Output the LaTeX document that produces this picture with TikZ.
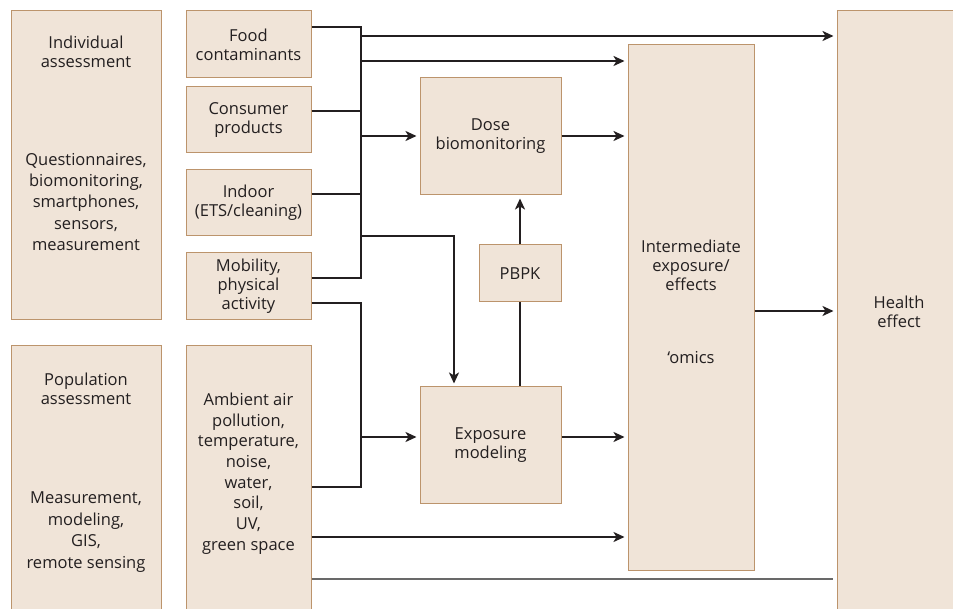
\documentclass[tikz,border=0pt]{standalone}
\usepackage{fontspec}
\setmainfont{Open Sans}
\usetikzlibrary{arrows.meta}
\definecolor{boxfill}{RGB}{240,228,216}
\definecolor{boxdraw}{RGB}{188,148,108}
\definecolor{ink}{RGB}{35,31,32}
\definecolor{rulegray}{RGB}{105,105,105}
\begin{document}
\begin{tikzpicture}[x=1pt,y=-1pt,
  box/.style={draw=boxdraw, fill=boxfill, line width=1pt, inner sep=0pt},
  txt/.style={align=center, font=\fontsize{16.5}{19}\selectfont, text=ink, inner sep=0pt},
  txtwide/.style={txt, font=\fontsize{16.5}{21.4}\selectfont},
  conn/.style={draw=ink, line width=2.3pt},
  arr/.style={conn, shorten >=3pt, -{Stealth[length=11pt,width=10pt,inset=3pt]}},
  thin/.style={draw=rulegray, line width=1.4pt}]
\useasboundingbox (0,0) rectangle (953,609);
\clip (0,0) rectangle (953,609);
% boxes
\node[box, minimum width=150, minimum height=309] (ind) at (86,165.5) {};
\node[box, minimum width=150, minimum height=269] (pop) at (86,480.5) {};
\node[box, minimum width=125, minimum height=67] (food) at (248.5,44.5) {};
\node[box, minimum width=125, minimum height=66] (cons) at (248.5,120) {};
\node[box, minimum width=125, minimum height=66] (indoor) at (248.5,203) {};
\node[box, minimum width=125, minimum height=67] (mob) at (248.5,286.5) {};
\node[box, minimum width=125, minimum height=269] (amb) at (248.5,480.5) {};
\node[box, minimum width=141, minimum height=117] (dose) at (490.5,136.5) {};
\node[box, minimum width=82, minimum height=57] (pbpk) at (520,273.5) {};
\node[box, minimum width=141, minimum height=116] (expo) at (490.5,445) {};
\node[box, minimum width=126, minimum height=525] (inter) at (691,307.5) {};
\node[box, minimum width=123, minimum height=604] (health) at (898.5,313) {};
% texts
\node[txt] (tind) at (86,52) {Individual\\assessment};
\node[txtwide] (tq) at (86,202) {Questionnaires,\\biomonitoring,\\smartphones,\\sensors,\\measurement};
\node[txt] (tpop) at (86,389) {Population\\assessment};
\node[txtwide] (tm) at (86,532) {Measurement,\\modeling,\\GIS,\\remote sensing};
\node[txt] (tfood) at (248.5,44.5) {Food\\contaminants};
\node[txt] (tcons) at (248.5,120) {Consumer\\products};
\node[txt] (tind2) at (248.5,203) {Indoor\\(ETS/cleaning)};
\node[txt] (tmob) at (248.5,286.5) {Mobility,\\physical\\activity};
\node[txt, font=\fontsize{16.5}{20.7}\selectfont] (tamb) at (248.5,473.5) {Ambient air\\pollution,\\temperature,\\noise,\\water,\\soil,\\UV,\\green space};
\node[txt] (tdose) at (490.5,136) {Dose\\biomonitoring};
\node[txt] (tpbpk) at (520,273.5) {PBPK};
\node[txt] (texpo) at (490.5,445) {Exposure\\modeling};
\node[txt] (tinter) at (691,265) {Intermediate\\exposure/\\effects};
\node[txt] (tomics) at (691,358) {‘omics};
\node[txt] (thealth) at (899,311.5) {Health\\effect};
% bus 1
\coordinate (b1t) at (361,27);
\coordinate (b1c) at (361,111);
\coordinate (b1i) at (361,194);
\coordinate (b1b) at (361,278);
\draw[conn] (food.east |- b1t) -- (b1t) -- (b1b) -- (mob.east |- b1b);
\draw[conn] (cons.east |- b1c) -- (b1c);
\draw[conn] (indoor.east |- b1i) -- (b1i);
\coordinate (o1) at (361,36);
\coordinate (o2) at (361,61);
\coordinate (o3) at (361,136);
\coordinate (o4) at (361,236);
\coordinate (e4) at (454,236);
\draw[arr] (o1) -- (o1 -| health.west);
\draw[arr] (o2) -- (o2 -| inter.west);
\draw[arr] (o3) -- (o3 -| dose.west);
\draw[arr] (o4) -- (e4) -- (e4 |- expo.north);
% bus 2
\coordinate (b2t) at (361,303);
\coordinate (b2b) at (361,487);
\coordinate (o5) at (361,437);
\draw[conn] (mob.east |- b2t) -- (b2t) -- (b2b) -- (amb.east |- b2b);
\draw[arr] (o5) -- (o5 -| expo.west);
% ambient
\coordinate (a1) at (311,537);
\coordinate (a2) at (311,579);
\draw[arr] (amb.east |- a1) -- (a1 -| inter.west);
\draw[thin] (amb.east |- a2) -- ([xshift=-4pt]a2 -| health.west);
% middle
\coordinate (d1) at (561,136);
\coordinate (x1) at (561,437);
\draw[arr] (dose.east |- d1) -- (d1 -| inter.west);
\draw[arr] (expo.east |- x1) -- (x1 -| inter.west);
\draw[conn] (pbpk.south) -- (pbpk.south |- expo.north);
\draw[arr] (pbpk.north) -- (pbpk.north |- dose.south);
\coordinate (h1) at (754,311);
\draw[arr] (inter.east |- h1) -- (h1 -| health.west);
\end{tikzpicture}
\end{document}
